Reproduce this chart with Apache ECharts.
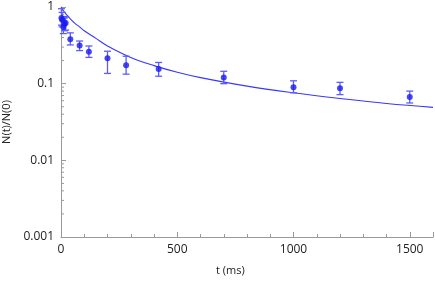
<!DOCTYPE html>
<html><head><meta charset="utf-8">
<script src="https://cdn.jsdelivr.net/npm/echarts@6/dist/echarts.min.js"></script>
<style>html,body{margin:0;padding:0;background:#fff}#c{width:435px;height:281px}</style>
</head><body><div id="c"></div>
<script>
// measured points
const times = [2, 5, 10, 15, 20, 40, 80, 120, 200, 280, 420, 700, 1000, 1200, 1500];
const values = [0.72, 0.68, 0.55, 0.60, 0.62, 0.38, 0.315, 0.26, 0.215, 0.174, 0.155, 0.12, 0.09, 0.087, 0.067];
const errLow = [0.58, 0.55, 0.45, 0.49, 0.50, 0.32, 0.27, 0.22, 0.136, 0.133, 0.125, 0.10, 0.076, 0.072, 0.056];
const errHigh = [0.95, 0.85, 0.66, 0.72, 0.75, 0.46, 0.36, 0.31, 0.265, 0.228, 0.189, 0.145, 0.109, 0.104, 0.080];
// fit curve
const curveT = [0, 10, 20, 40, 60, 80, 100, 150, 200, 300, 400, 500, 600, 800, 1000, 1200, 1400, 1600];
const curveV = [1, 0.90, 0.82, 0.70, 0.61, 0.55, 0.49, 0.39, 0.31, 0.22, 0.172, 0.141, 0.12, 0.093, 0.076, 0.064, 0.055, 0.049];
// tick labels
const xTicks = [0, 500, 1000, 1500];
const yTicks = ['0.001', '0.01', '0.1', '1'];
const yMinorTicks = [0.002,0.003,0.004,0.005,0.006,0.007,0.008,0.009,0.02,0.03,0.04,0.05,0.06,0.07,0.08,0.09,0.2,0.3,0.4,0.5,0.6,0.7,0.8,0.9];

const FONT = 'Open Sans';
const chart = echarts.init(document.getElementById('c'), null, {renderer: 'canvas'});
const axisGray = '#9a9a9a';
chart.setOption({
  animation: false,
  grid: {left: 61, right: 2, top: 7, bottom: 44, containLabel: false, outerBoundsMode: 'none'},
  xAxis: {
    type: 'value', min: 0, max: 1600, interval: 500,
    axisLine: {onZero: false, lineStyle: {color: axisGray, width: 1}},
    axisTick: {inside: true, length: 5, lineStyle: {color: axisGray}},
    minorTick: {show: true, splitNumber: 5, length: 3, lineStyle: {color: axisGray}},
    splitLine: {show: false},
    axisLabel: {color: '#222', fontFamily: FONT, fontSize: 12, margin: 7, showMaxLabel: false,
      formatter: v => xTicks.indexOf(v) >= 0 ? String(v) : ''}
  },
  yAxis: {
    type: 'log', logBase: 10, min: 0.001, max: 1,
    name: 'N(t)/N(0)', nameLocation: 'middle', nameGap: 44,
    nameTextStyle: {color: '#222', fontFamily: FONT, fontSize: 11},
    axisLine: {show: true, lineStyle: {color: axisGray, width: 1}},
    axisTick: {show: true, inside: true, length: 5, lineStyle: {color: axisGray}},
    splitLine: {show: false},
    axisLabel: {color: '#222', fontFamily: FONT, fontSize: 12, margin: 7,
      formatter: v => { const s = yTicks.find(t => Math.abs(parseFloat(t) - v) < v * 1e-6); return s || ''; }}
  },
  graphic: [{type: 'text', left: 216, top: 265, style: {text: 't (ms)', fill: '#222', font: '11px "Open Sans"'}}],
  series: [
    {
      type: 'custom', silent: true, z: 1,
      data: yMinorTicks.map(v => [0, v]),
      renderItem: (params, api) => {
        const p = api.coord([0, api.value(1)]);
        return {type: 'line', shape: {x1: p[0], y1: p[1], x2: p[0] + 3, y2: p[1]}, style: {stroke: axisGray, lineWidth: 1}};
      }
    },
    {
      type: 'line', data: curveT.map((t, i) => [t, curveV[i]]), smooth: 0.4, symbol: 'none',
      lineStyle: {color: '#3838ff', width: 1.1}, z: 2
    },
    {
      type: 'custom', z: 3,
      data: times.map((t, i) => [t, errLow[i], errHigh[i]]),
      renderItem: (params, api) => {
        const lo = api.coord([api.value(0), api.value(1)]);
        const hi = api.coord([api.value(0), api.value(2)]);
        const w = 3.5;
        const st = {stroke: '#5c5cff', lineWidth: 1.3};
        return {type: 'group', children: [
          {type: 'line', shape: {x1: lo[0], y1: lo[1], x2: hi[0], y2: hi[1]}, style: st},
          {type: 'line', shape: {x1: lo[0] - w, y1: lo[1], x2: lo[0] + w, y2: lo[1]}, style: st},
          {type: 'line', shape: {x1: hi[0] - w, y1: hi[1], x2: hi[0] + w, y2: hi[1]}, style: st}
        ]};
      }
    },
    {
      type: 'scatter', data: times.map((t, i) => [t, values[i]]), symbol: 'circle', symbolSize: 6,
      itemStyle: {color: '#1a1af0'}, z: 4
    }
  ]
});
</script></body></html>
